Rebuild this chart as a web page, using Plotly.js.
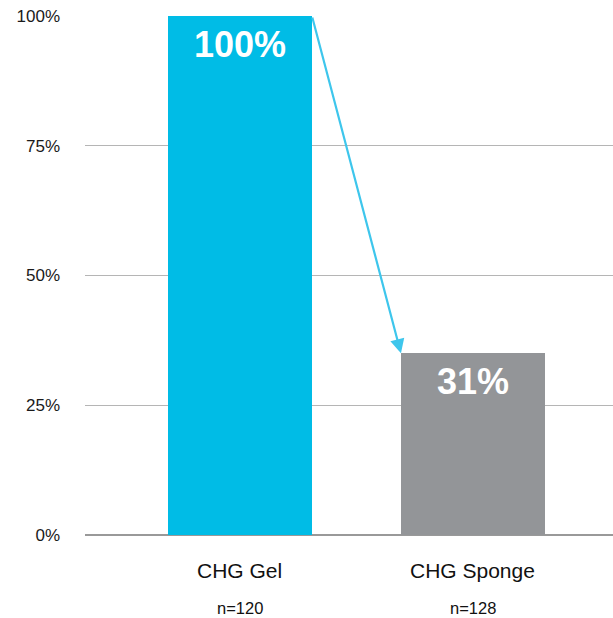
<!DOCTYPE html>
<html>
<head>
<meta charset="utf-8">
<script src="https://cdn.plot.ly/plotly-3.0.1.min.js"></script>
<style>html,body{margin:0;padding:0;background:#fff;}#chart{width:613px;height:618px;}</style>
</head>
<body>
<div id="chart"></div>
<script>
var categories = ["CHG Gel", "CHG Sponge"];
var sampleSizes = ["n=120", "n=128"];
var values = [100, 35];
var valueLabels = ["100%", "31%"];
var barColors = ["#00bce6", "#939598"];
var yTicks = [0, 25, 50, 75, 100];
var yTickLabels = ["0%", "25%", "50%", "75%", "100%"];

var barWidth = 0.618;
var xIdx = categories.map(function(c, i){ return i; });
var FONT = "Liberation Sans, Arial, sans-serif";

var trace = {
  type: "bar",
  x: xIdx,
  y: values,
  width: barWidth,
  marker: {color: barColors, line: {width: 0}},
  hoverinfo: "none"
};

var annotations = [];
xIdx.forEach(function(i){
  annotations.push({
    x: i, y: values[i], xref: "x", yref: "y", yanchor: "middle",
    yshift: -28, text: "<b>" + valueLabels[i] + "</b>", showarrow: false,
    font: {family: FONT, size: 36, color: "#ffffff"}
  });
  annotations.push({
    x: i, y: 0, xref: "x", yref: "paper", yanchor: "middle",
    yshift: -35, text: categories[i], showarrow: false,
    font: {family: FONT, size: 21, color: "#111111"}
  });
  annotations.push({
    x: i, y: 0, xref: "x", yref: "paper", yanchor: "middle",
    yshift: -73, text: sampleSizes[i], showarrow: false,
    font: {family: FONT, size: 16.5, color: "#111111"}
  });
});
// arrow from top-right of first bar to top-left of second bar
annotations.push({
  x: 1 - barWidth/2, y: values[1], xref: "x", yref: "y",
  ax: 0 + barWidth/2, ay: values[0], axref: "x", ayref: "y",
  text: "", showarrow: true, arrowhead: 2, arrowsize: 1.3, arrowwidth: 2.2,
  arrowcolor: "#3ec6ec", standoff: 0, startstandoff: 0
});

var layout = {
  width: 613, height: 618,
  margin: {l: 85, r: 0, t: 16, b: 83},
  paper_bgcolor: "#ffffff", plot_bgcolor: "#ffffff",
  showlegend: false,
  bargap: 0,
  xaxis: {
    range: [-0.665, 1.601], showticklabels: false, showgrid: false,
    zeroline: false, showline: false, ticks: "", fixedrange: true
  },
  yaxis: {
    range: [0, 100], tickvals: yTicks, ticktext: yTickLabels,
    showgrid: true, gridcolor: "#b5b5b5", gridwidth: 1.2,
    zeroline: true, zerolinecolor: "#999999", zerolinewidth: 2.5,
    showline: false, ticks: "", ticklabelstandoff: 24,
    tickfont: {family: FONT, size: 17, color: "#1a1a1a"}, fixedrange: true
  },
  annotations: annotations
};

Plotly.newPlot("chart", [trace], layout, {displayModeBar: false, staticPlot: true});
</script>
</body>
</html>
